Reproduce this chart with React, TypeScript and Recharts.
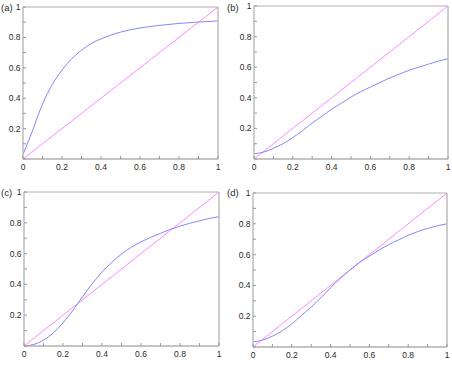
import React from "react";
import { LineChart, Line, XAxis, YAxis } from "recharts";

const tickVals = [0, 0.1, 0.2, 0.3, 0.4, 0.5, 0.6, 0.7, 0.8, 0.9, 1];

// panel (a) uses a finer grid near zero where the curve rises fast
const xA = [0, 0.025, 0.05, 0.075, 0.1, 0.125, 0.15, 0.175, 0.2, 0.25, 0.3, 0.35, 0.4, 0.45, 0.5, 0.6, 0.7, 0.8, 0.9, 1];
const yA = [0.03, 0.11, 0.19, 0.28, 0.36, 0.43, 0.49, 0.54, 0.585, 0.66, 0.715, 0.76, 0.79, 0.815, 0.835, 0.862, 0.879, 0.892, 0.901, 0.908];

const xStd = [0, 0.05, 0.1, 0.15, 0.2, 0.25, 0.3, 0.35, 0.4, 0.45, 0.5, 0.55, 0.6, 0.65, 0.7, 0.75, 0.8, 0.85, 0.9, 0.95, 1];
const yB = [0.035, 0.045, 0.07, 0.1, 0.14, 0.185, 0.235, 0.28, 0.325, 0.365, 0.405, 0.44, 0.47, 0.5, 0.53, 0.555, 0.58, 0.6, 0.62, 0.64, 0.655];
const yC = [0, 0.01, 0.038, 0.085, 0.15, 0.23, 0.32, 0.405, 0.48, 0.543, 0.597, 0.641, 0.676, 0.706, 0.732, 0.757, 0.778, 0.797, 0.813, 0.828, 0.84];
const yD = [0.033, 0.045, 0.07, 0.105, 0.15, 0.205, 0.26, 0.32, 0.385, 0.445, 0.5, 0.55, 0.59, 0.63, 0.665, 0.695, 0.725, 0.75, 0.77, 0.787, 0.8];

const diagX = [0, 1];
const diagY = [0, 1];

const FONT = "'Liberation Sans', Arial, sans-serif";
const TXT = "#2a2a2a";
const TICK = "#999";
const BOX = "#b0b0b0";

const isMajor = (v: number) => Math.round(v * 10) % 2 === 0;
const fmt = (v: number) => String(Math.round(v * 10) / 10);

const BottomTick = (p: any) => {
  const v = p.payload.value;
  return (
    <g>
      <line x1={p.x} x2={p.x} y1={p.y} y2={p.y - 3} stroke={TICK} />
      {isMajor(v) && (
        <text x={p.x} y={p.y + 11} textAnchor="middle" fontSize={8.5} fill={TXT} fontFamily={FONT}>
          {fmt(v)}
        </text>
      )}
    </g>
  );
};

const TopTick = (p: any) => (
  <line x1={p.x} x2={p.x} y1={p.y} y2={p.y + 3} stroke={TICK} />
);

const LeftTick = (p: any) => {
  const v = p.payload.value;
  return (
    <g>
      <line x1={p.x} x2={p.x + 3} y1={p.y} y2={p.y} stroke={TICK} />
      {isMajor(v) && v > 0 && (
        <text x={p.x - 2.5} y={p.y + 3} textAnchor="end" fontSize={8.5} fill={TXT} fontFamily={FONT}>
          {fmt(v)}
        </text>
      )}
    </g>
  );
};

const RightTick = (p: any) => (
  <line x1={p.x} x2={p.x - 3} y1={p.y} y2={p.y} stroke={TICK} />
);

type PanelProps = {
  label: string;
  xs: number[];
  ys: number[];
  left: number;
  top: number;
  height: number;
  margin: { top: number; right: number; bottom: number; left: number };
};

function Panel({ label, xs, ys, left, top, height, margin }: PanelProps) {
  const curve = xs.map((x, i) => ({ x, y: ys[i] }));
  const diag = diagX.map((x, i) => ({ x, y: diagY[i] }));
  return (
    <div style={{ position: "absolute", left, top, width: 226, height }}>
      <LineChart width={226} height={height} margin={margin}>
        <XAxis
          xAxisId="b"
          dataKey="x"
          type="number"
          domain={[0, 1]}
          ticks={tickVals}
          interval={0}
          height={1}
          tickSize={0}
          tickMargin={0}
          tick={BottomTick}
          axisLine={{ stroke: BOX, strokeWidth: 1.5 }}
        />
        <XAxis
          xAxisId="t"
          orientation="top"
          dataKey="x"
          type="number"
          domain={[0, 1]}
          ticks={tickVals}
          interval={0}
          height={1}
          tickSize={0}
          tickMargin={0}
          tick={TopTick}
          axisLine={{ stroke: BOX }}
        />
        <YAxis
          yAxisId="l"
          type="number"
          domain={[0, 1]}
          ticks={tickVals}
          interval={0}
          width={1}
          tickSize={0}
          tickMargin={0}
          tick={LeftTick}
          axisLine={{ stroke: "#bdbdbd", strokeWidth: 1.5 }}
        />
        <YAxis
          yAxisId="r"
          orientation="right"
          type="number"
          domain={[0, 1]}
          ticks={tickVals}
          interval={0}
          width={1}
          tickSize={0}
          tickMargin={0}
          tick={RightTick}
          axisLine={{ stroke: "#bdbdbd", strokeWidth: 1.5 }}
        />
        <Line
          xAxisId="b"
          yAxisId="l"
          data={diag}
          dataKey="y"
          type="linear"
          stroke="#ff88ff"
          strokeWidth={1}
          dot={false}
          activeDot={false}
          isAnimationActive={false}
        />
        <Line
          xAxisId="b"
          yAxisId="l"
          data={curve}
          dataKey="y"
          type="monotone"
          stroke="#8585ff"
          strokeWidth={1}
          dot={false}
          activeDot={false}
          isAnimationActive={false}
        />
      </LineChart>
      <div
        style={{
          position: "absolute",
          left: 1,
          top: 3,
          fontSize: 9.5,
          lineHeight: "10px",
          color: TXT,
          fontFamily: FONT,
        }}
      >
        {label}
      </div>
    </div>
  );
}

export default function App() {
  return (
    <div style={{ position: "absolute", left: 0, top: 0, width: 452, height: 371, background: "#fff" }}>
      <Panel label="(a)" xs={xA} ys={yA} left={0} top={0} height={185}
        margin={{ top: 6, right: 7, bottom: 25, left: 22 }} />
      <Panel label="(b)" xs={xStd} ys={yB} left={226} top={0} height={185}
        margin={{ top: 5, right: 3, bottom: 25, left: 27 }} />
      <Panel label="(c)" xs={xStd} ys={yC} left={0} top={185} height={186}
        margin={{ top: 6, right: 6, bottom: 24, left: 23 }} />
      <Panel label="(d)" xs={xStd} ys={yD} left={226} top={185} height={186}
        margin={{ top: 7, right: 4, bottom: 23, left: 26 }} />
    </div>
  );
}
